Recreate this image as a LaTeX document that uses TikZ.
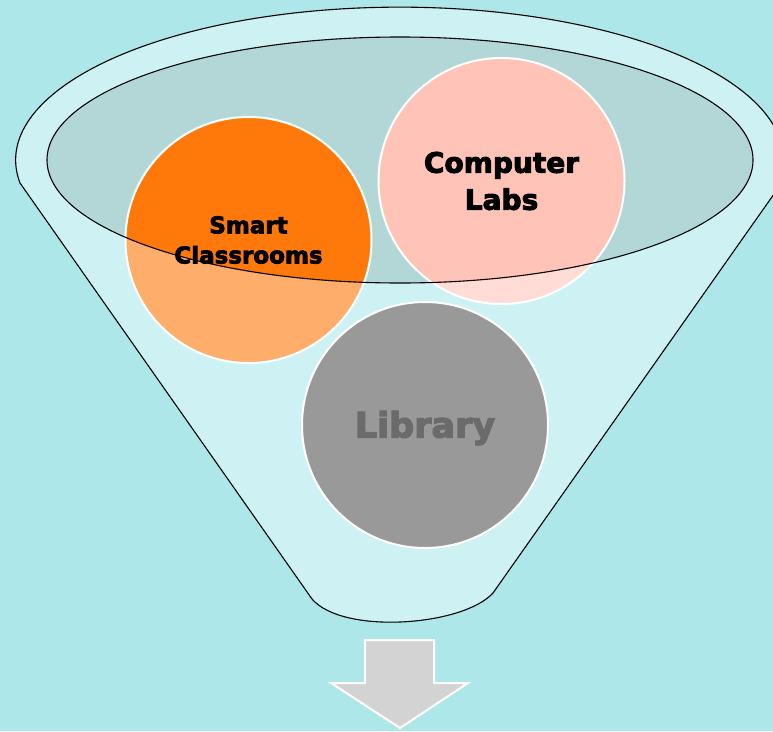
\documentclass[tikz,border=0pt]{standalone}
\usepackage{fontspec}
\newfontfamily\heavy[BoldFeatures={FakeBold=3.5}]{DejaVu Sans}
\definecolor{bg}{HTML}{AEE7E9}
\definecolor{funnelfill}{HTML}{CEF1F3}
\definecolor{rimfill}{HTML}{B3D7D7}
\definecolor{orangeD}{HTML}{FF790A}
\definecolor{orangeL}{HTML}{FFAD6A}
\definecolor{pinkD}{HTML}{FFC3B7}
\definecolor{pinkL}{HTML}{FFDCD6}
\definecolor{libgray}{HTML}{999999}
\definecolor{libtext}{HTML}{6B6B6B}
\definecolor{arrowgray}{HTML}{D3D3D3}
\tikzset{
  funnel/.style={fill=funnelfill, draw=black, line width=1.1pt, line join=round},
  rim/.style={draw=black, line width=1.1pt},
  ball/.style={circle, minimum size=246pt, inner sep=0pt},
  ballrim/.style={draw=white, line width=2pt},
  lbl/.style={align=center, font=\heavy\bfseries, text=black},
  downarrow/.style={fill=arrowgray, draw=white, line width=2pt, line join=miter}
}
\begin{document}
\begin{tikzpicture}[x=1pt,y=-1pt]
\useasboundingbox (0,0) rectangle (773,731);
\clip (0,0) rectangle (773,731);
\fill[bg] (0,0) rectangle (773,731);
% funnel body
\path[funnel] (20,183) arc[start angle=171.4, end angle=372.5, x radius=384, y radius=153]
  -- (493,593) .. controls (463,626) and (343,635) .. (312,599) -- cycle;
% rim ellipse fill
\fill[rimfill] (400,160) ellipse [x radius=353, y radius=123];
% circles (light parts)
\node[ball, fill=orangeL] (sc) at (248.5,240) {};
\node[ball, fill=pinkL] (cl) at (501.5,181) {};
\node[ball, fill=libgray] (lib) at (425,425) {};
% saturated parts inside rim
\begin{scope}
  \clip (400,160) ellipse [x radius=353, y radius=123];
  \fill[orangeD] (sc.center) circle (123);
  \fill[pinkD] (cl.center) circle (123);
\end{scope}
% white outlines
\draw[ballrim] (sc.center) circle (123);
\draw[ballrim] (cl.center) circle (123);
\draw[ballrim] (lib.center) circle (123);
% rim outline
\draw[rim] (400,160) ellipse [x radius=353, y radius=123];
% labels
\node[lbl, font=\heavy\bfseries\fontsize{23}{30}\selectfont] (sctext) at (sc.center) {Smart\\Classrooms};
\node[lbl, font=\heavy\bfseries\fontsize{28}{37}\selectfont] (cltext) at (cl.center) {Computer\\Labs};
\node[lbl, text=libtext, font=\heavy\bfseries\fontsize{35}{40}\selectfont] (libtext) at ([yshift=-3pt]lib.center) {Library};
% down arrow
\path[downarrow] (365,640) -- (434,640) -- (434,683) -- (468,683) -- (400,728) -- (331,683) -- (365,683) -- cycle;
\end{tikzpicture}
\end{document}
